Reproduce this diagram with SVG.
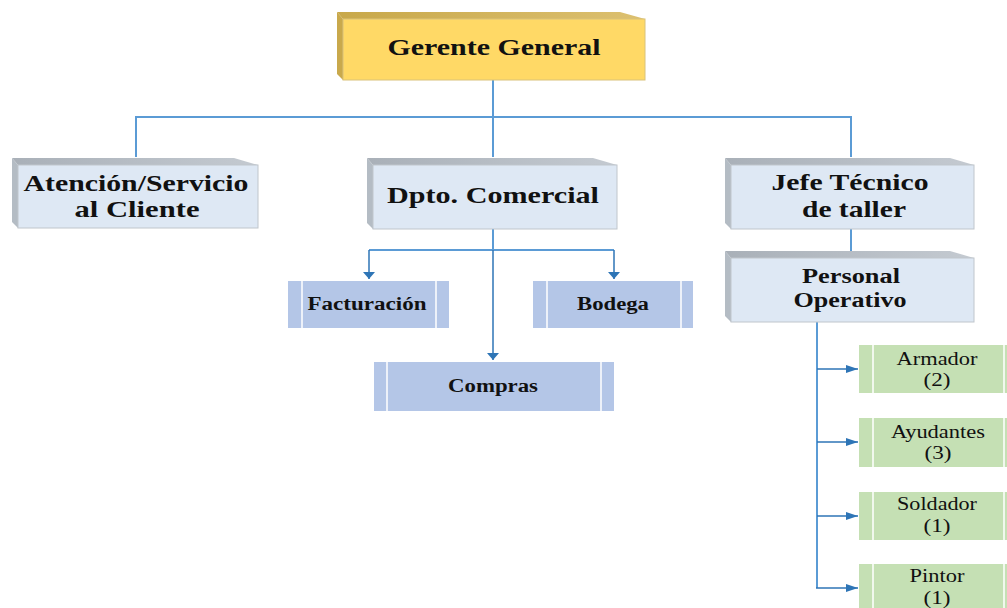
<svg xmlns="http://www.w3.org/2000/svg" width="1007" height="608" viewBox="0 0 1007 608">
  <defs>
    <linearGradient id="topBlue" x1="0" y1="0" x2="1" y2="0">
      <stop offset="0" stop-color="#a9b0b8"/>
      <stop offset="1" stop-color="#c4cad1"/>
    </linearGradient>
    <linearGradient id="topGold" x1="0" y1="0" x2="1" y2="0">
      <stop offset="0" stop-color="#c8a84a"/>
      <stop offset="1" stop-color="#dcc070"/>
    </linearGradient>
    <!-- downward heads are short and wide, sideways heads long and narrow -->
    <marker id="arrowV" viewBox="0 0 7 12" refX="7" refY="6" markerWidth="7" markerHeight="12" orient="auto" markerUnits="userSpaceOnUse">
      <path d="M0,0 L7,6 L0,12 z" fill="#2e75b6"/>
    </marker>
    <marker id="arrowH" viewBox="0 0 12 8" refX="12" refY="4" markerWidth="12" markerHeight="8" orient="auto" markerUnits="userSpaceOnUse">
      <path d="M0,0 L12,4 L0,8 z" fill="#2e75b6"/>
    </marker>
  </defs>
  <style>
    .face { fill: #dee8f4; stroke: #c0c6cc; stroke-width: 1; }
    .faceGold { fill: #ffd966; stroke: #d9c27a; stroke-width: 1; }
    .top { fill: url(#topBlue); }
    .left { fill: #b4bcc4; }
    .topGold { fill: url(#topGold); }
    .leftGold { fill: #c9a94c; }
    text { font-family: "Liberation Serif", "DejaVu Serif", "Times New Roman", serif; fill: #111; text-anchor: middle; }
    .head { font-weight: bold; }
    .sub { fill: #b4c6e7; }
    .green { fill: #c5e0b4; }
    .div { stroke: #ffffff; stroke-width: 1.5; }
    .line { fill: none; stroke: #5b9bd5; stroke-width: 2; }
    .arrV { fill: none; stroke: #2e75b6; stroke-width: 1.5; marker-end: url(#arrowV); }
    .arrH { fill: none; stroke: #2e75b6; stroke-width: 1.5; marker-end: url(#arrowH); }
  </style>

  <!-- connectors -->
  <g id="connectors">
    <path class="line" d="M493,80 V117 M136,157 V117 H851 V157 M493,117 V157"/>
    <path class="line" d="M851,229 V251"/>
    <path class="line" d="M493,229 V250 M369,250 H614"/>
    <path class="arrV" d="M369,250 V279"/>
    <path class="arrV" d="M614,250 V279"/>
    <path class="arrV" d="M493,250 V360"/>
    <path class="line" d="M817,322 V588"/>
    <path class="arrH" d="M817,369 H858"/>
    <path class="arrH" d="M817,442 H858"/>
    <path class="arrH" d="M817,516 H858"/>
    <path class="arrH" d="M816,588 H858"/>
  </g>

  <!-- top level -->
  <g id="gerente">
    <polygon class="topGold" points="337,12 620,12 645,19 343,19"/>
    <polygon class="leftGold" points="337,12 343,19 343,80 337,74"/>
    <rect class="faceGold" x="343" y="19" width="302" height="61"/>
    <text class="head" x="494" y="55" font-size="24" textLength="213" lengthAdjust="spacingAndGlyphs">Gerente General</text>
  </g>

  <g id="atencion">
    <polygon class="top" points="12,158 234,158 258,165 18,165"/>
    <polygon class="left" points="12,158 18,165 18,228 12,222"/>
    <rect class="face" x="18" y="165" width="240" height="63"/>
    <text class="head" x="136" y="191" font-size="23" textLength="225" lengthAdjust="spacingAndGlyphs">Atención/Servicio</text>
    <text class="head" x="137" y="217" font-size="23" textLength="125" lengthAdjust="spacingAndGlyphs">al Cliente</text>
  </g>

  <g id="comercial">
    <polygon class="top" points="367,158 593,158 617,165 373,165"/>
    <polygon class="left" points="367,158 373,165 373,229 367,223"/>
    <rect class="face" x="373" y="165" width="244" height="64"/>
    <text class="head" x="493" y="203" font-size="23" textLength="212" lengthAdjust="spacingAndGlyphs">Dpto. Comercial</text>
  </g>

  <g id="jefe">
    <polygon class="top" points="725,158 950,158 974,165 731,165"/>
    <polygon class="left" points="725,158 731,165 731,229 725,223"/>
    <rect class="face" x="731" y="165" width="243" height="64"/>
    <text class="head" x="850" y="190" font-size="23" textLength="157" lengthAdjust="spacingAndGlyphs">Jefe Técnico</text>
    <text class="head" x="854" y="217" font-size="23" textLength="104" lengthAdjust="spacingAndGlyphs">de taller</text>
  </g>

  <g id="personal">
    <polygon class="top" points="725,251 950,251 974,258 731,258"/>
    <polygon class="left" points="725,251 731,258 731,322 725,316"/>
    <rect class="face" x="731" y="258" width="243" height="64"/>
    <text class="head" x="851" y="283" font-size="20" textLength="98" lengthAdjust="spacingAndGlyphs">Personal</text>
    <text class="head" x="850" y="307" font-size="20" textLength="113" lengthAdjust="spacingAndGlyphs">Operativo</text>
  </g>

  <!-- commercial sub units -->
  <g id="facturacion">
    <rect class="sub" x="288" y="281" width="161" height="47"/>
    <path class="div" d="M302,281 V328 M436,281 V328"/>
    <text class="head" x="367" y="310" font-size="18" textLength="119" lengthAdjust="spacingAndGlyphs">Facturación</text>
  </g>
  <g id="bodega">
    <rect class="sub" x="533" y="281" width="160" height="47"/>
    <path class="div" d="M547,281 V328 M681,281 V328"/>
    <text class="head" x="613" y="310" font-size="18" textLength="72" lengthAdjust="spacingAndGlyphs">Bodega</text>
  </g>
  <g id="compras">
    <rect class="sub" x="374" y="362" width="240" height="49"/>
    <path class="div" d="M387,362 V411 M601,362 V411"/>
    <text class="head" x="493" y="392" font-size="18" textLength="90" lengthAdjust="spacingAndGlyphs">Compras</text>
  </g>

  <!-- workshop staff -->
  <g id="armador">
    <rect class="green" x="859" y="345" width="160" height="48"/>
    <path class="div" d="M873,345 V393 M1004,345 V393"/>
    <text x="937" y="365" font-size="18" textLength="81" lengthAdjust="spacingAndGlyphs">Armador</text>
    <text x="937" y="386" font-size="18" textLength="27" lengthAdjust="spacingAndGlyphs">(2)</text>
  </g>
  <g id="ayudantes">
    <rect class="green" x="859" y="418" width="160" height="49"/>
    <path class="div" d="M873,418 V467 M1004,418 V467"/>
    <text x="938" y="438" font-size="18" textLength="94" lengthAdjust="spacingAndGlyphs">Ayudantes</text>
    <text x="938" y="459" font-size="18" textLength="27" lengthAdjust="spacingAndGlyphs">(3)</text>
  </g>
  <g id="soldador">
    <rect class="green" x="859" y="492" width="160" height="48"/>
    <path class="div" d="M873,492 V540 M1004,492 V540"/>
    <text x="937" y="510" font-size="18" textLength="80" lengthAdjust="spacingAndGlyphs">Soldador</text>
    <text x="937" y="532" font-size="18" textLength="27" lengthAdjust="spacingAndGlyphs">(1)</text>
  </g>
  <g id="pintor">
    <rect class="green" x="859" y="564" width="160" height="48"/>
    <path class="div" d="M873,564 V612 M1004,564 V612"/>
    <text x="937" y="582" font-size="18" textLength="55" lengthAdjust="spacingAndGlyphs">Pintor</text>
    <text x="937" y="604" font-size="18" textLength="27" lengthAdjust="spacingAndGlyphs">(1)</text>
  </g>
</svg>
